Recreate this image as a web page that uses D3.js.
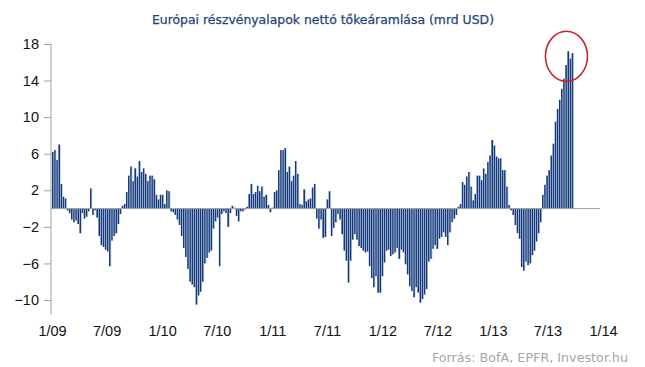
<!DOCTYPE html>
<html><head><meta charset="utf-8">
<script src="https://cdn.jsdelivr.net/npm/d3@7/dist/d3.min.js"></script>
<style>body{margin:0;background:#fff}svg{display:block}</style>
</head><body><svg id="c" width="645" height="367"></svg>
<script>
const titleText = "Európai részvényalapok nettó tőkeáramlása (mrd USD)";
const sourceText = "Forrás: BofA, EPFR, Investor.hu";
const startDate = "2009-01-01";
const weekStepDays = 7;
// weekly net flows, bn USD
const flows = [
 6.2, 6.4, 5.3, 7.0, 2.7, 1.3, 1.1, -0.2, -0.5, -1.2,
 -1.5, -1.3, -1.7, -2.7, -0.5, -1.1, -0.9, -0.3, 2.2, -0.7,
 -0.2, -1.0, -3.0, -4.0, -4.2, -4.5, -4.7, -6.3, -3.5, -3.0,
 -2.7, -1.7, -0.6, 0.3, 0.5, 1.8, 3.6, 4.6, 3.0, 4.4,
 3.5, 5.2, 4.0, 4.4, 3.8, 3.0, 3.6, 3.6, 3.2, 1.5,
 1.0, 1.5, 1.5, 0.5, 2.0,
 1.9, -0.3, -0.4, -0.7, -1.2, -1.8, -3.0, -4.3, -5.3, -6.6,
 -8.0, -8.3, -8.6, -10.5, -9.5, -9.1, -8.0, -6.0, -5.4, -4.8,
 -4.6, -2.2, -1.4, -1.0, -6.3, -0.6, -0.3, -0.5, -2.0, -0.5,
 0.3, 0.1, -0.8, -1.4,
 -0.3, -0.3, -0.1, 0.2, 1.6, 2.7, 1.6, 1.8, 2.5, 1.9,
 2.4, 1.3, 1.5, 0.4, -0.4, 0.1, 1.8, 2.0, 4.2, 6.4,
 6.4, 6.6, 4.0, 4.6, 3.0, 3.6, 5.2, 3.8, 0.5, 0.4,
 2.1, 0.8, 1.0, 1.1, 2.3, 2.7, -1.1, -2.2, -1.2, -3.2,
 -3.1, 1.0, 1.9, -3.0, -2.1, -1.5, -0.6, -1.2, -2.8, -4.6,
 -5.7, -8.1, -5.7, -3.4, -2.8, -3.4, -4.1, -4.3, -4.6, -4.8,
 -4.7, -6.3, -7.6, -8.6, -7.4, -9.2, -9.2, -7.4, -5.9, -4.6,
 -4.5, -5.2, -5.0, -4.8, -4.3, -5.5, -4.5, -4.8, -6.1, -7.2,
 -8.5, -9.0, -9.7, -8.6, -9.2, -10.3, -9.9, -9.4, -8.8,
 -5.8, -5.5, -4.4, -4.0, -4.4, -3.3, -3.1, -2.6, -3.1, -4.0,
 -2.6, -1.5, -1.1, -0.7, 0.2, 0.5, 2.9, 2.6, 3.5, 4.0,
 2.4, 0.9, 1.6, 3.6, 3.6, 3.1, 4.4, 3.8, 5.1, 5.8,
 7.5, 6.9, 5.7, 5.5, 5.5, 4.2, 4.2, 2.4, 0.4, -0.2,
 -0.7, -1.8, -2.7, -3.3, -6.4, -6.8, -5.8, -6.2, -6.0, -5.1,
 -4.6, -3.6, -2.7, -1.5, 1.5, 2.6, 3.6, 4.2, 5.8, 7.1,
 9.5, 10.9, 11.9, 13.1, 14.2, 15.7, 17.2, 16.4, 17.0
];
const yTicks = [18, 14, 10, 6, 2, -2, -6, -10];
const xTickDates = ["2009-01-01","2009-07-01","2010-01-01","2010-07-01","2011-01-01","2011-07-01","2012-01-01","2012-07-01","2013-01-01","2013-07-01","2014-01-01"];
const xTickLabels = ["1/09","7/09","1/10","7/10","1/11","7/11","1/12","7/12","1/13","7/13","1/14"];
const highlightCount = 4; // last bars circled

const parse = d3.utcParse("%Y-%m-%d");
const start = parse(startDate);
const data = flows.map((v, i) => ({date: d3.utcDay.offset(start, i * weekStepDays), value: v}));

const svg = d3.select("#c");
const x = d3.scaleUtc().domain([parse("2009-01-01"), parse("2014-01-01")]).range([52, 603]);
const y = d3.scaleLinear().domain([-10, 18]).range([300, 44]);

// title
svg.append("text").attr("x", 323).attr("y", 24).attr("text-anchor", "middle")
  .attr("font-family", "DejaVu Sans Condensed, DejaVu Sans").attr("font-size", 13)
  .attr("fill", "#1f4479").attr("stroke", "#1f4479").attr("stroke-width", 0.25)
  .attr("textLength", 342).attr("lengthAdjust", "spacingAndGlyphs")
  .text(titleText);

// bars
const dark = "#163876", light = "#9ab7df";
const bars = svg.append("g");
bars.selectAll("rect.d").data(data).join("rect").attr("class", "d")
  .attr("x", d => x(d.date)).attr("width", 1.65)
  .attr("y", d => y(Math.max(0, d.value))).attr("height", d => Math.abs(y(d.value) - y(0)))
  .attr("fill", dark);
bars.selectAll("rect.l").data(data).join("rect").attr("class", "l")
  .attr("x", d => x(d.date) + 1.65).attr("width", 0.5)
  .attr("y", d => y(Math.max(0, d.value))).attr("height", d => Math.abs(y(d.value) - y(0)))
  .attr("fill", light);

// zero line
svg.append("line").attr("x1", 51).attr("x2", 600).attr("y1", y(0)).attr("y2", y(0))
  .attr("stroke", "#a0a0a0").attr("stroke-width", 1);

// y axis
const yAxis = d3.axisLeft(y).tickValues(yTicks).tickSize(7).tickPadding(5).tickFormat(d3.format("d"));
const ga = svg.append("g").attr("transform", "translate(51,0)").call(yAxis);
ga.select(".domain").remove();
ga.append("line").attr("x1", 0).attr("x2", 0).attr("y1", y(18)).attr("y2", y(-11.6)).attr("stroke", "#a0a0a0");
ga.selectAll(".tick line").attr("stroke", "#a0a0a0");
ga.selectAll(".tick text").attr("font-family", "Liberation Sans, Arial, sans-serif").attr("font-size", 14.5).attr("fill", "#111");

// x labels
const xa = d3.axisBottom(x).tickValues(xTickDates.map(parse)).tickSize(0).tickPadding(0)
  .tickFormat((d, i) => xTickLabels[i]);
const gx = svg.append("g").attr("transform", "translate(0,326)").call(xa);
gx.select(".domain").remove();
gx.selectAll(".tick text").attr("font-family", "Liberation Sans, Arial, sans-serif").attr("font-size", 14.5).attr("fill", "#111");

// highlight ellipse around last bars
const last = data.slice(-highlightCount);
const cx = d3.mean(last, d => x(d.date)) - 2;
const cy = y(d3.max(last, d => d.value)) + 5;
svg.append("ellipse").attr("cx", cx).attr("cy", cy).attr("rx", 21).attr("ry", 25)
  .attr("fill", "none").attr("stroke", "#c8262c").attr("stroke-width", 1.6);

// source
svg.append("text").attr("x", 628).attr("y", 362).attr("text-anchor", "end")
  .attr("font-family", "DejaVu Sans Condensed, DejaVu Sans").attr("font-size", 12)
  .attr("fill", "#a6a6a6").attr("textLength", 196).attr("lengthAdjust", "spacingAndGlyphs")
  .text(sourceText);
</script></body></html>
